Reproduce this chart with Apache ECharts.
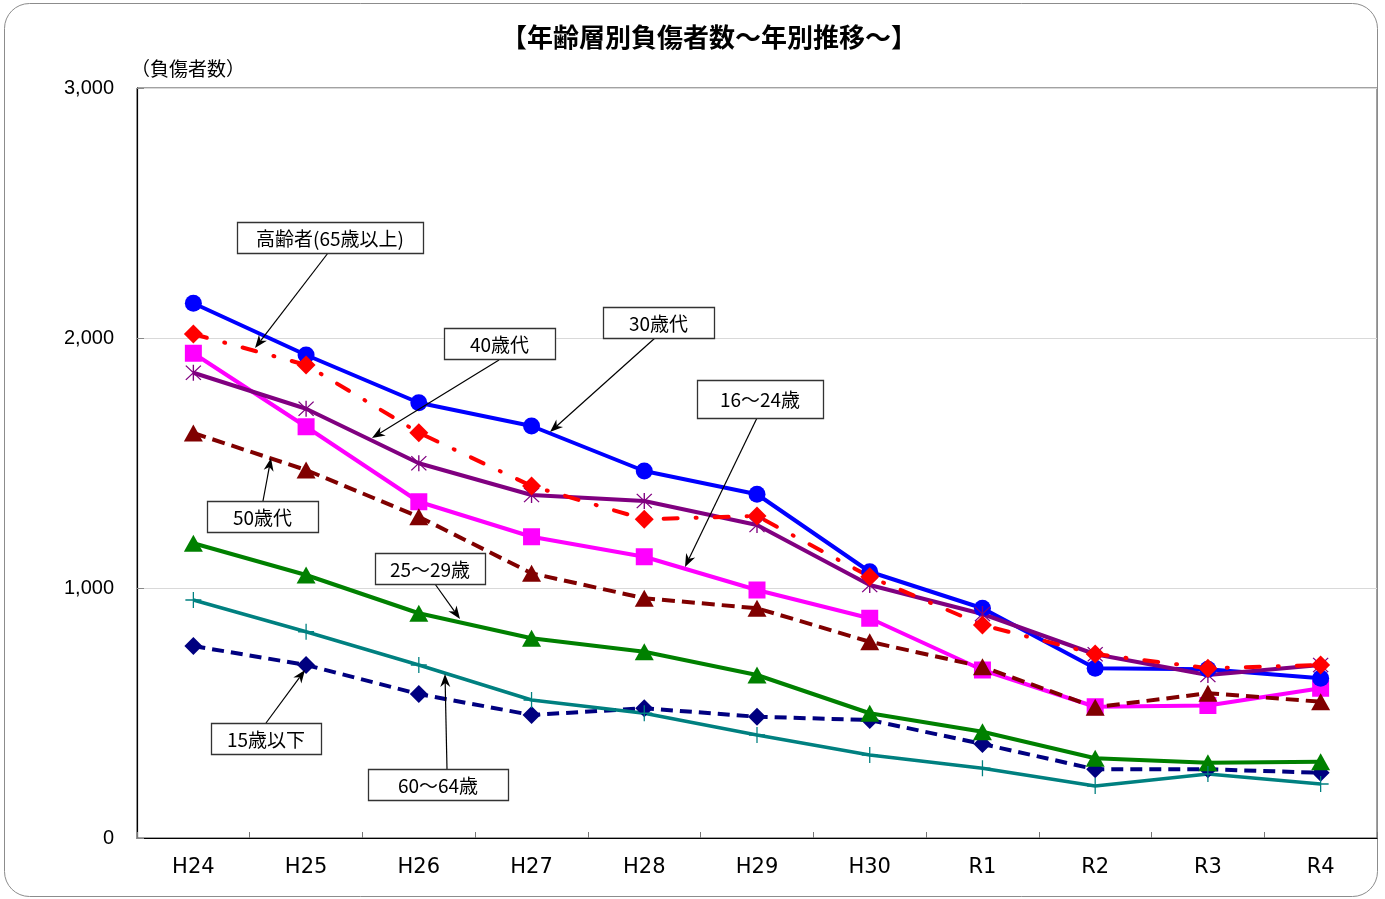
<!DOCTYPE html>
<html>
<head>
<meta charset="utf-8">
<script src="https://cdn.jsdelivr.net/npm/echarts@6/dist/echarts.min.js"></script>
<style>
html,body{margin:0;padding:0;background:#fff;}
#main{width:1385px;height:899px;}
</style>
</head>
<body>
<div id="main"></div>
<script>
// ---- data ----
const categories = ['H24','H25','H26','H27','H28','H29','H30','R1','R2','R3','R4'];
const yTicks = [0, 1000, 2000, 3000];
const s15under = [768, 692, 576, 492, 519, 485, 472, 376, 275, 275, 261];
const s16to24 = [1939, 1645, 1345, 1205, 1125, 992, 879, 672, 525, 530, 599];
const s25to29 = [1179, 1052, 899, 799, 745, 652, 499, 425, 319, 301, 305];
const s30s = [2139, 1932, 1741, 1648, 1468, 1375, 1065, 919, 679, 675, 639];
const s40s = [1861, 1717, 1499, 1372, 1348, 1252, 1012, 896, 735, 652, 692];
const s50s = [1620, 1472, 1285, 1059, 959, 919, 785, 685, 523, 579, 545];
const s60to64 = [952, 825, 692, 552, 499, 412, 332, 279, 208, 256, 216];
const sElderly = [2016, 1892, 1621, 1408, 1275, 1288, 1045, 852, 736, 679, 692];

const titleText = '【年齢層別負傷者数～年別推移～】';
const yName = '（負傷者数）';

// annotation labels: [text, box x, box y, box w, box h, arrow start x, y, arrow tip x, y]
const notes = [
  ['高齢者(65歳以上)', 237, 222, 186, 31, 328, 253, 255, 348],
  ['40歳代', 444, 328, 111, 31, 499, 360, 372, 438],
  ['30歳代', 603, 307, 111, 31, 655, 338, 550, 432],
  ['16～24歳', 697, 380, 126, 38, 757, 418, 685, 567],
  ['50歳代', 207, 501, 111, 31, 263, 501, 271, 458],
  ['25～29歳', 375, 553, 110, 31, 435, 584, 460, 619],
  ['15歳以下', 211, 723, 110, 31, 266, 723, 305, 670],
  ['60～64歳', 368, 769, 140, 31, 447, 769, 445, 674]
];

const asterisk = 'path://M9.2,0 L10.8,0 L10.8,20 L9.2,20 Z M0.6,1.7 L1.7,0.6 L19.4,18.3 L18.3,19.4 Z M18.3,0.6 L19.4,1.7 L1.7,19.4 L0.6,18.3 Z';
const plusSym = 'path://M9.2,0 L10.8,0 L10.8,20 L9.2,20 Z M0,9.2 L20,9.2 L20,10.8 L0,10.8 Z';

const chart = echarts.init(document.getElementById('main'), null, {renderer:'canvas'});

function mkSeries(name, data, color, symbol, size, lineType, width, cap) {
  return {
    name, type:'line', data, symbol, symbolSize:size,
    itemStyle:{color:color, borderWidth:0},
    lineStyle:{color:color, width:width, type:lineType, cap: cap || 'butt'},
    emphasis:{disabled:true}
  };
}

const graphics = [
  {type:'rect', shape:{x:4.5, y:3.5, width:1373, height:893, r:25}, style:{fill:'none', stroke:'#8c8c8c', lineWidth:1}, z:0},
  {type:'text', style:{text:titleText, x:709, y:37, align:'center', verticalAlign:'middle', font:'bold 26px "Noto Sans CJK JP"', fill:'#000'}, z:10},
  {type:'text', style:{text:yName, x:131, y:69, align:'left', verticalAlign:'middle', font:'19px "Noto Sans CJK JP"', fill:'#000'}, z:10}
];

notes.forEach(n => {
  const [t, bx, by, bw, bh, sx, sy, tx, ty] = n;
  const dx = tx - sx, dy = ty - sy, len = Math.hypot(dx, dy);
  const ux = dx/len, uy = dy/len, nx = -uy, ny = ux;
  const L = 13, W = 5;
  const bxp = tx - ux*L, byp = ty - uy*L;
  const lineEndX = tx - ux*L*0.7, lineEndY = ty - uy*L*0.7;
  graphics.push({type:'line', shape:{x1:sx, y1:sy, x2:lineEndX, y2:lineEndY}, style:{stroke:'#000', lineWidth:1.2}, z:20});
  graphics.push({type:'polygon', shape:{points:[[tx,ty],[bxp+nx*W, byp+ny*W],[lineEndX, lineEndY],[bxp-nx*W, byp-ny*W]]}, style:{fill:'#000'}, z:20});
  graphics.push({type:'rect', shape:{x:bx+0.5, y:by+0.5, width:bw, height:bh}, style:{fill:'#fff', stroke:'#333', lineWidth:1.3}, z:21});
  graphics.push({type:'text', style:{text:t, x:bx+bw/2, y:by+bh/2+1, align:'center', verticalAlign:'middle', font:'19px "Noto Sans CJK JP"', fill:'#000'}, z:22});
});

const option = {
  animation:false,
  backgroundColor:'#fff',
  grid:{left:137, right:8, top:88, bottom:61, show:true, borderColor:'#444', borderWidth:1, backgroundColor:'transparent'},
  xAxis:{
    type:'category', data:categories, boundaryGap:true,
    axisLine:{lineStyle:{color:'#000', width:1.2}},
    axisTick:{show:true, inside:true, length:6, lineStyle:{color:'#777'}},
    axisLabel:{color:'#000', fontSize:21, fontFamily:'DejaVu Sans', margin:19}
  },
  yAxis:{
    type:'value', min:yTicks[0], max:yTicks[yTicks.length-1], interval:1000,
    axisLine:{show:true, lineStyle:{color:'#000', width:1.2}},
    axisTick:{show:true, inside:true, length:7, lineStyle:{color:'#888'}},
    axisLabel:{color:'#000', fontSize:20, fontFamily:'Liberation Sans', margin:23,
      formatter: v => v.toLocaleString('en-US')},
    splitLine:{show:true, lineStyle:{color:'#d9d9d9', width:1}}
  },
  series:[
    mkSeries('15歳以下', s15under, '#000080', 'diamond', [18,18], [12,7], 4),
    mkSeries('16～24歳', s16to24, '#FF00FF', 'rect', 17, 'solid', 4),
    mkSeries('25～29歳', s25to29, '#008000', 'triangle', [19,17], 'solid', 4),
    mkSeries('30歳代', s30s, '#0000FF', 'circle', 17, 'solid', 4),
    mkSeries('40歳代', s40s, '#800080', asterisk, 16, 'solid', 4),
    mkSeries('50歳代', s50s, '#800000', 'triangle', [19,17], [13,7], 4),
    mkSeries('60～64歳', s60to64, '#008080', plusSym, 16, 'solid', 3.5),
    mkSeries('高齢者(65歳以上)', sElderly, '#FF0000', 'diamond', [19,19], [14,18,1,18], 4, 'round')
  ],
  graphic:graphics
};
chart.setOption(option);
</script>
</body>
</html>
